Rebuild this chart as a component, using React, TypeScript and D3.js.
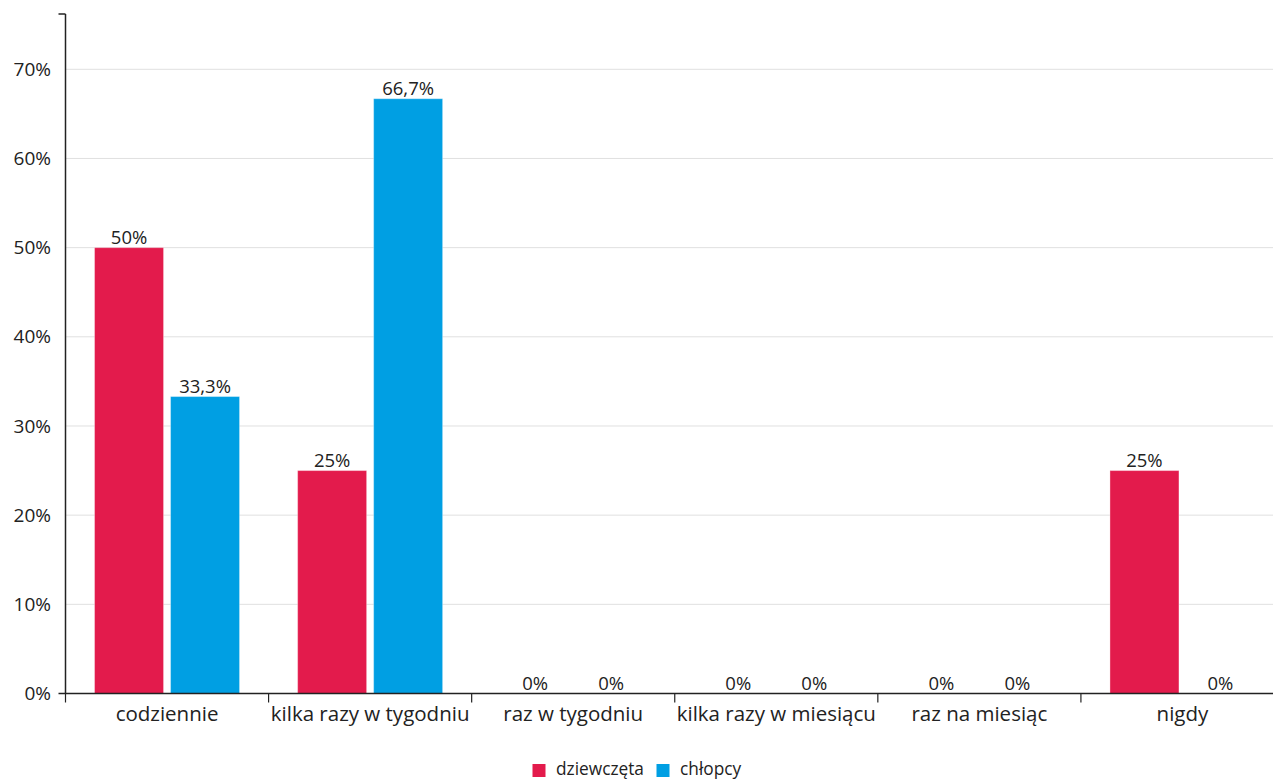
import React from "react";
import * as d3 from "d3";

const categories = ["codziennie", "kilka razy w tygodniu", "raz w tygodniu", "kilka razy w miesiącu", "raz na miesiąc", "nigdy"];
const seriesNames = ["dziewczęta", "chłopcy"];
const girls = [50, 25, 0, 0, 0, 25];
const boys = [33.3, 66.7, 0, 0, 0, 0];
const girlLabels = ["50%", "25%", "0%", "0%", "0%", "25%"];
const boyLabels = ["33,3%", "66,7%", "0%", "0%", "0%", "0%"];
const yTicks = [0, 10, 20, 30, 40, 50, 60, 70];
const colors = ["#E31B4C", "#009FE3"];

export default function App() {
  const W = 1273, H = 780;
  const left = 65.5, right = 1284, top = 14, bottom = 693.5;
  const x = d3.scaleBand<string>().domain(categories).range([left, right]).paddingInner(0).paddingOuter(0);
  const y = d3.scaleLinear().domain([0, 76.2]).range([bottom, top]);
  const step = x.bandwidth();
  const pad = step * 0.143;
  const gap = 7;
  const bw = (step - 2 * pad - gap) / 2;
  const font = "'Open Sans', 'Noto Sans', sans-serif";
  const series = [girls, boys];
  const labels = [girlLabels, boyLabels];
  return (
    <svg width={W} height={H} style={{ position: "absolute", left: 0, top: 0, overflow: "hidden" }} fontFamily={font}>
      <rect width={W} height={H} fill="#fff" />
      {yTicks.filter(t => t > 0).map(t => (
        <line key={t} x1={left} x2={right} y1={y(t)} y2={y(t)} stroke="#e0e0e0" strokeWidth={1} />
      ))}
      {series.map((s, si) => s.map((v, i) => {
        const bx = (x(categories[i]) as number) + pad + si * (bw + gap);
        return (
          <g key={`${si}-${i}`}>
            {v > 0 && (
              <rect x={bx} y={y(v)} width={bw} height={bottom - y(v)} fill={colors[si]} stroke="rgba(255,255,255,0.35)" strokeWidth={1} />
            )}
            <text x={bx + bw / 2} y={y(v) - 4} textAnchor="middle" fontSize={18.5} fill="#222">{labels[si][i]}</text>
          </g>
        );
      }))}
      <line x1={left} x2={left} y1={top} y2={bottom} stroke="#222" strokeWidth={1.5} />
      <line x1={left - 7} x2={left} y1={top} y2={top} stroke="#222" strokeWidth={1.5} />
      <line x1={left - 7} x2={right} y1={bottom} y2={bottom} stroke="#222" strokeWidth={1.5} />
      {yTicks.map(t => (
        <text key={t} x={51} y={y(t)} dy="0.35em" textAnchor="end" fontSize={19} fill="#222">{t}%</text>
      ))}
      {categories.map((c, i) => (
        <g key={c}>
          <line x1={(x(c) as number)} x2={(x(c) as number)} y1={bottom} y2={bottom + 9} stroke="#222" strokeWidth={1.2} />
          <text x={(x(c) as number) + step / 2} y={721} textAnchor="middle" fontSize={20.5} fill="#222">{c}</text>
        </g>
      ))}
      <g>
        <rect x={532.5} y={764} width={13} height={13} fill={colors[0]} />
        <text x={556} y={775} fontSize={17.3} fill="#222">{seriesNames[0]}</text>
        <rect x={656.5} y={764} width={13} height={13} fill={colors[1]} />
        <text x={680} y={775} fontSize={17.3} fill="#222">{seriesNames[1]}</text>
      </g>
    </svg>
  );
}
